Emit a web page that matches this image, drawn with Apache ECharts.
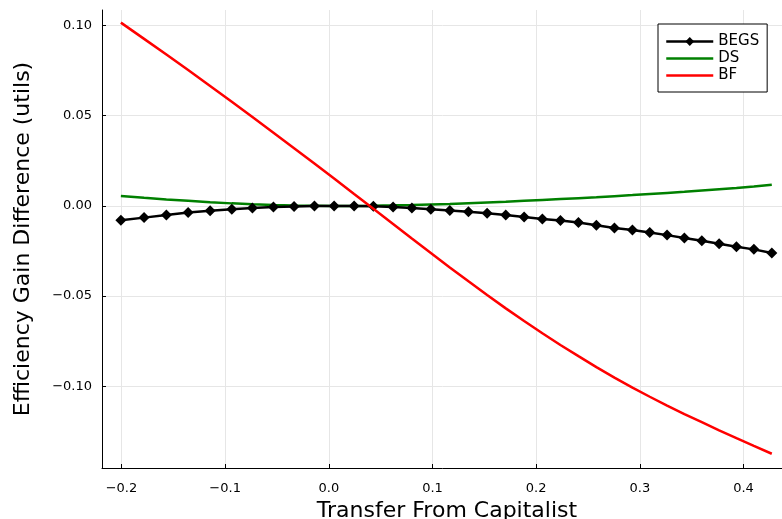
<!DOCTYPE html>
<html>
<head>
<meta charset="utf-8">
<script src="https://cdn.jsdelivr.net/npm/echarts@6/dist/echarts.min.js"></script>
<style>
html,body{margin:0;padding:0;background:#fff;}
#chart{width:782px;height:519px;}
</style>
</head>
<body>
<div id="chart"></div>
<script>
// Transfer values (x) shared by all series
const transfer = [-0.2006,-0.1782,-0.1567,-0.1357,-0.1145,-0.0936,-0.0737,-0.0534,-0.0335,-0.0139,
  0.0051,0.0244,0.0430,0.0620,0.0801,0.0984,0.1167,0.1347,0.1527,0.1707,0.1884,0.2060,0.2234,0.2408,
  0.2581,0.2755,0.2929,0.3096,0.3263,0.3430,0.3598,0.3765,0.3932,0.4100,0.4273];
const begs = [-0.0080,-0.0065,-0.0050,-0.0037,-0.0027,-0.0018,-0.0011,-0.0006,-0.0003,-0.0001,
  0.0000,0.0000,-0.0002,-0.0006,-0.0012,-0.0018,-0.0026,-0.0033,-0.0041,-0.0050,-0.0061,-0.0072,
  -0.0081,-0.0092,-0.0107,-0.0122,-0.0134,-0.0147,-0.0162,-0.0178,-0.0193,-0.0210,-0.0227,-0.0241,-0.0261];
const ds = [0.0055,0.0045,0.0036,0.0028,0.0020,0.0014,0.0009,0.0005,0.0002,0.0001,
  0.0000,0.0000,0.0001,0.0003,0.0005,0.0008,0.0011,0.0015,0.0019,0.0023,0.0028,0.0033,
  0.0038,0.0043,0.0048,0.0054,0.0060,0.0066,0.0072,0.0078,0.0085,0.0092,0.0099,0.0107,0.0117];
const bf = [0.1016,0.0926,0.0839,0.0753,0.0665,0.0577,0.0493,0.0406,0.0320,0.0235,
  0.0152,0.0066,-0.0016,-0.0100,-0.0181,-0.0261,-0.0341,-0.0418,-0.0494,-0.0568,-0.0638,-0.0706,
  -0.0771,-0.0833,-0.0894,-0.0952,-0.1007,-0.1058,-0.1107,-0.1154,-0.1199,-0.1244,-0.1287,-0.1330,-0.1374];
const xTicks = [-0.2,-0.1,0.0,0.1,0.2,0.3,0.4];
const yTicks = [-0.10,-0.05,0.00,0.05,0.10];
const seriesNames = ['BEGS','DS','BF'];

function fmt(v, d){
  const s = Math.abs(v).toFixed(d);
  return (v < -1e-9 ? '\u2212' : '') + s;
}
function pairs(ys){ return transfer.map((x,i)=>[x, ys[i]]); }

const FONT = 'DejaVu Sans';
const chart = echarts.init(document.getElementById('chart'), null, {renderer:'canvas'});
chart.setOption({
  backgroundColor: '#ffffff',
  animation: false,
  textStyle: {fontFamily: FONT},
  grid: {left: 102, top: 10, width: 690, height: 458, containLabel: false, outerBoundsMode: 'none'},
  xAxis: {
    type: 'value', min: -0.2188, max: 0.4468,
    name: 'Transfer From Capitalist', nameLocation: 'middle', nameGap: 31,
    nameTextStyle: {fontSize: 22, color: '#000', fontFamily: FONT},
    axisLine: {show: true, onZero: false, lineStyle: {color: '#000', width: 1}},
    axisTick: {show: true, inside: true, length: 4, customValues: xTicks, lineStyle: {color: '#000', width: 1}},
    axisLabel: {customValues: xTicks, formatter: v => fmt(v,1), fontSize: 13, color: '#000', margin: 14, fontFamily: FONT},
    splitLine: {show: true, lineStyle: {color: '#e6e6e6', width: 1}}
  },
  yAxis: {
    type: 'value', min: -0.1453, max: 0.1086,
    name: 'Efficiency Gain Difference (utils)', nameLocation: 'middle', nameGap: 68,
    nameTextStyle: {fontSize: 22, color: '#000', fontFamily: FONT},
    axisLine: {show: true, onZero: false, lineStyle: {color: '#000', width: 1}},
    axisTick: {show: true, inside: true, length: 4, customValues: yTicks, lineStyle: {color: '#000', width: 1}},
    axisLabel: {customValues: yTicks, formatter: v => fmt(v,2), fontSize: 13, color: '#000', margin: 10, fontFamily: FONT},
    splitLine: {show: true, lineStyle: {color: '#e6e6e6', width: 1}}
  },
  legend: {
    data: [
      {name: 'BEGS', lineStyle: {width: 2.5}},
      {name: 'DS', lineStyle: {width: 2.5}, itemStyle: {opacity: 0}},
      {name: 'BF', lineStyle: {width: 2.5}, itemStyle: {opacity: 0}}
    ],
    orient: 'vertical', left: 658, top: 24,
    backgroundColor: '#fff', borderColor: '#000', borderWidth: 1, borderRadius: 0,
    padding: [9, 8, 8, 7], itemWidth: 47, itemHeight: 11, itemGap: 0,
    textStyle: {fontSize: 15, color: '#000', lineHeight: 17, fontFamily: FONT}
  },
  series: [
    {name: 'BEGS', type: 'line', data: pairs(begs), symbol: 'diamond', symbolSize: 11,
     showAllSymbol: true, color: '#000', lineStyle: {color: '#000', width: 2.5},
     itemStyle: {color: '#000'}, z: 3},
    {name: 'DS', type: 'line', data: pairs(ds), symbol: 'none',
     color: '#008000', lineStyle: {color: '#008000', width: 2.5}, z: 2},
    {name: 'BF', type: 'line', data: pairs(bf), symbol: 'none',
     color: '#ff0000', lineStyle: {color: '#ff0000', width: 2.5}, z: 4}
  ]
});
</script>
</body>
</html>
